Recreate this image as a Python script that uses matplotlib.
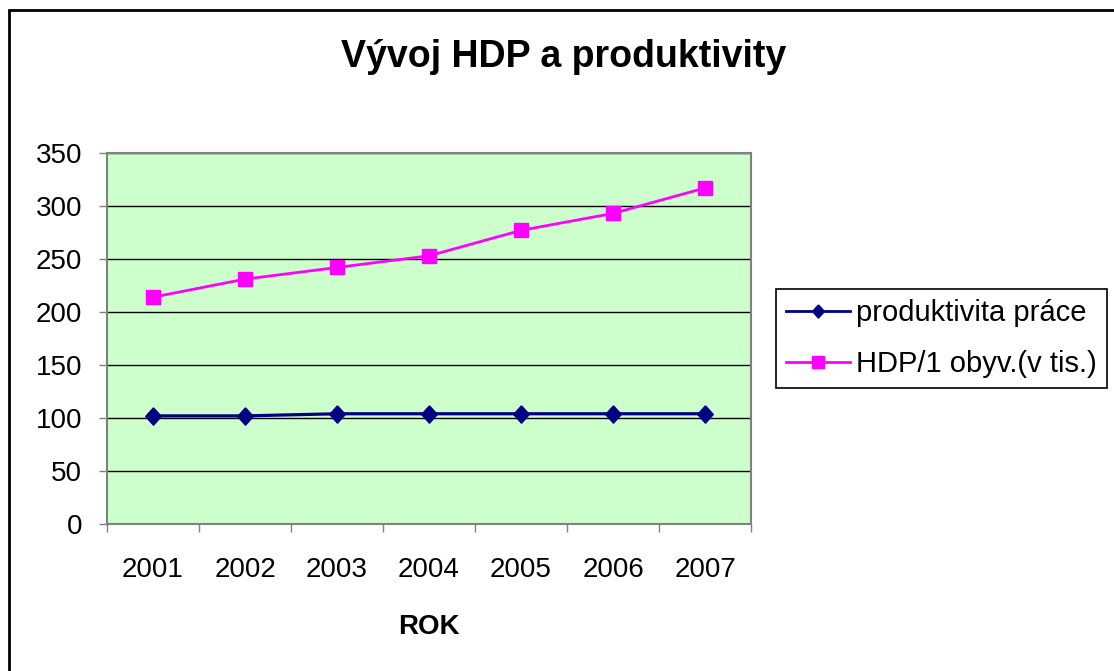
import matplotlib
matplotlib.use("Agg")
import matplotlib.pyplot as plt
from matplotlib.patches import Rectangle
from matplotlib.lines import Line2D

years = ["2001", "2002", "2003", "2004", "2005", "2006", "2007"]
produktivita = [102, 102, 104, 104, 104, 104, 104]
hdp = [214, 231, 242, 253, 277, 293, 317]
y_ticks = [0, 50, 100, 150, 200, 250, 300, 350]

plt.rcParams['font.family'] = ['Liberation Sans', 'DejaVu Sans']

W, H = 1114, 671
fig = plt.figure(figsize=(W / 100, H / 100), dpi=100)
fig.patch.set_facecolor('white')

# outer frame (only left and top visible)
fig.patches.append(Rectangle((9 / W, -0.1), 1.2, 1.1 - 10 / H, transform=fig.transFigure,
                             fill=False, edgecolor='black', linewidth=2, zorder=0))

ax = fig.add_axes([107 / W, 1 - 524 / H, (751 - 107) / W, (524 - 153) / H])
ax.set_facecolor('#CCFFCC')

NAVY = '#000080'
MAG = '#FF00FF'
diamond = [(0, 1), (0.9, 0), (0, -1), (-0.9, 0), (0, 1)]

x = list(range(len(years)))
ax.plot(x, produktivita, color=NAVY, linewidth=2.3, marker=diamond, markersize=12.5,
        markerfacecolor=NAVY, markeredgecolor=NAVY, zorder=3)
ax.plot(x, hdp, color=MAG, linewidth=2, marker='s', markersize=10,
        markerfacecolor=MAG, markeredgecolor=MAG, zorder=3)

ax.set_xlim(-0.5, len(years) - 0.5)
ax.set_ylim(0, 350)
ax.set_yticks(y_ticks)
ax.yaxis.grid(True, color='black', linewidth=1)
ax.set_axisbelow(True)

ax.set_xticks(x)
ax.set_xticklabels(years, fontsize=20)
ax.set_xticks([i - 0.5 for i in range(len(years) + 1)], minor=True)
ax.tick_params(axis='x', which='major', length=0, pad=24)
ax.tick_params(axis='x', which='minor', length=6, width=1, color='#808080', direction='out')
ax.tick_params(axis='y', length=6, width=1, color='#808080', labelsize=20, pad=12)

for s in ax.spines.values():
    s.set_color('#808080')
    s.set_linewidth(1.5)

ax.set_xlabel('ROK', fontsize=20, fontweight='bold', labelpad=22)

fig.text(564 / W, 1 - 57 / H, 'Vývoj HDP a produktivity', fontsize=27, fontweight='bold',
         ha='center', va='center')

handles = [
    Line2D([], [], color=NAVY, linewidth=2, marker=diamond, markersize=9.5,
           markerfacecolor=NAVY, markeredgecolor=NAVY),
    Line2D([], [], color=MAG, linewidth=2, marker='s', markersize=8.5,
           markerfacecolor=MAG, markeredgecolor=MAG),
]
labels = ['produktivita práce', 'HDP/1 obyv.(v tis.)']
leg = fig.legend(handles, labels, loc='upper left', bbox_to_anchor=(776 / W, 1 - 289 / H),
                 bbox_transform=fig.transFigure,
                 fontsize=21, frameon=True, fancybox=False, edgecolor='black', framealpha=1,
                 handlelength=2.2, handletextpad=0.2, borderpad=0.35, labelspacing=0.78,
                 borderaxespad=0)
leg.get_frame().set_linewidth(1.2)

fig.savefig('out.png', dpi=100, facecolor='white')
